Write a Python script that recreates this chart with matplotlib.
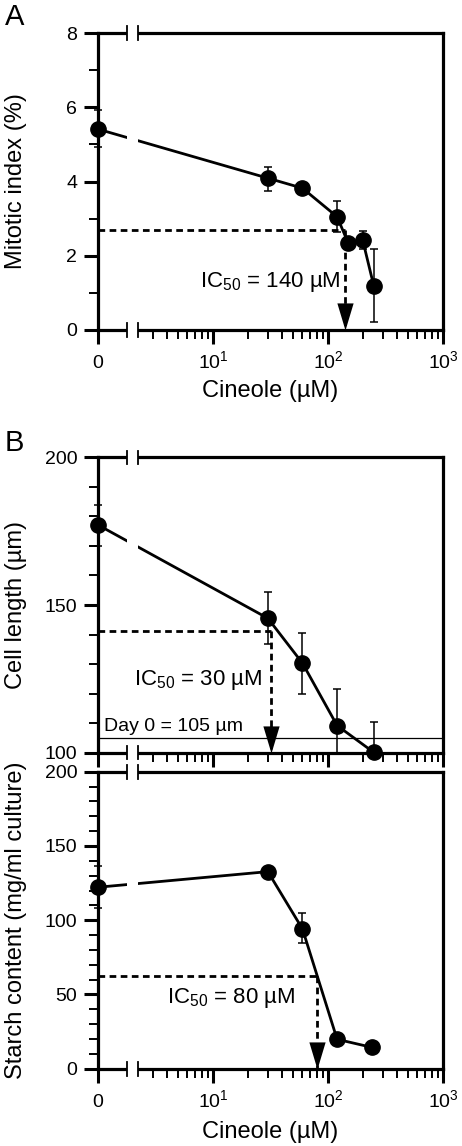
import matplotlib
matplotlib.use("Agg")
import matplotlib.pyplot as plt
from matplotlib.patches import Rectangle
from matplotlib.ticker import MultipleLocator, NullFormatter

plt.rcParams["font.family"] = ["Liberation Sans", "DejaVu Sans"]
plt.rcParams["mathtext.fontset"] = "custom"
plt.rcParams["mathtext.rm"] = "Liberation Sans"
plt.rcParams["mathtext.it"] = "Liberation Sans:italic"
plt.rcParams["mathtext.bf"] = "Liberation Sans:bold"

# concentrations in uM, 0 is drawn at 1 on the log axis (left of the break)
mitotic_conc = [0, 30, 60, 120, 150, 200, 250]
mitotic_index = [5.41, 4.09, 3.82, 3.05, 2.34, 2.43, 1.19]
mitotic_err_low = [0.47, 0.34, 0.15, 0.42, 0.0, 0.25, 0.97]
mitotic_err_high = [0.52, 0.31, 0.15, 0.43, 0.0, 0.25, 0.98]

length_conc = [0, 30, 60, 120, 250]
cell_length = [177.1, 145.5, 130.3, 109.2, 100.1]
length_err_low = [7.1, 8.7, 10.4, 9.2, 0.1]
length_err_high = [6.8, 8.8, 10.3, 12.5, 10.4]

starch_conc = [0, 30, 60, 120, 240]
starch = [122.2, 132.7, 94.1, 19.8, 14.4]
starch_err_low = [13.8, 0, 9.7, 0, 0]
starch_err_high = [14.3, 0, 10.5, 0, 0]

# IC50 guides: (x where the arrow lands, y of the horizontal dashed line, label)
ic50_mitotic = (140, 2.7, "140")
ic50_length = (32, 141.3, "30")
ic50_starch = (80, 62.6, "80")

day0_length = 105

x_major = [1, 10, 100, 1000]
x_major_labels = ["0", "10$^1$", "10$^2$", "10$^3$"]
x_minor = [m * 10 ** d for d in range(3) for m in range(2, 10) if m * 10 ** d > 2.5]

BREAK_LO = 1.78
BREAK_HI = 2.22

DASH = (0, (2.4, 1.6))
ARROW_HEAD = [(0, 0), (-0.3, 1), (0.3, 1)]

FIG_W, FIG_H = 462, 1146


def px_axes(fig, left, top, right, bottom):
    return fig.add_axes([left / FIG_W, 1 - bottom / FIG_H,
                         (right - left) / FIG_W, (bottom - top) / FIG_H])


def style_axes(ax, ylim, y_major, y_minor, show_xlabels=True):
    ax.set_xscale("log")
    ax.set_xlim(1, 1000)
    ax.set_ylim(*ylim)
    if show_xlabels:
        ax.set_xticks(x_major, labels=x_major_labels, va="baseline")
    else:
        ax.set_xticks(x_major, labels=[""] * len(x_major))
    ax.set_xticks(x_minor, minor=True)
    ax.xaxis.set_minor_formatter(NullFormatter())
    ax.yaxis.set_major_locator(MultipleLocator(y_major))
    ax.yaxis.set_minor_locator(MultipleLocator(y_minor))

    for spine in ax.spines.values():
        spine.set_linewidth(2.3)

    ax.tick_params(axis="both", which="major", direction="out", length=10,
                   width=2.2, labelsize=14, top=False, right=False)
    ax.tick_params(axis="both", which="minor", direction="out", length=6.8,
                   width=1.4, top=False, right=False)
    ax.tick_params(axis="x", which="major", pad=17.4)
    ax.tick_params(axis="y", which="major", pad=5)
    ax.yaxis.set_label_coords(-0.205, 0.5)


def draw_break(ax):
    trans = ax.get_xaxis_transform()
    ax.add_patch(Rectangle((BREAK_LO, -0.04), BREAK_HI - BREAK_LO, 1.08,
                           transform=trans, facecolor="white",
                           edgecolor="none", zorder=3, clip_on=False))
    for xb in (BREAK_LO, BREAK_HI):
        for yb in (0, 1):
            ax.plot([xb, xb], [yb - 0.023, yb + 0.023], transform=trans,
                    color="black", lw=1.3, clip_on=False, zorder=3.5)


def plot_series(ax, conc, values, err_low, err_high):
    x = [c if c > 0 else 1 for c in conc]
    ax.errorbar(x, values, yerr=[err_low, err_high], fmt="none",
                ecolor="black", elinewidth=1.1, capsize=3.2, capthick=1.1,
                clip_on=False, zorder=2)
    ax.plot(x, values, "-o", color="black", lw=2.0, markersize=11,
            clip_on=False, zorder=2.2)


def draw_ic50(ax, ic50, text_x, text_y):
    x_ic, y_ic, label = ic50
    ymin = ax.get_ylim()[0]
    ax.plot([1, x_ic], [y_ic, y_ic], color="black", lw=2.0, linestyle=DASH,
            zorder=4, clip_on=False)
    ax.plot([x_ic, x_ic], [y_ic, ymin], color="black", lw=2.0, linestyle=DASH,
            zorder=4)
    ax.plot([x_ic], [ymin], marker=ARROW_HEAD, markersize=39, color="black",
            markeredgewidth=0, zorder=5, clip_on=False)
    ax.text(text_x, text_y, "IC$_{50}$ = " + label + " \u00b5M", fontsize=16,
            ha="right", va="center", zorder=6)


def main():
    fig = plt.figure(figsize=(FIG_W / 100, FIG_H / 100), dpi=100)

    # A: mitotic index
    ax_a = px_axes(fig, 98, 33, 443, 330)
    style_axes(ax_a, (0, 8), 2, 1)
    plot_series(ax_a, mitotic_conc, mitotic_index, mitotic_err_low, mitotic_err_high)
    draw_break(ax_a)
    draw_ic50(ax_a, ic50_mitotic, 130, 1.3)
    ax_a.set_ylabel("Mitotic index (%)", fontsize=17)
    ax_a.set_xlabel("Cineole (\u00b5M)", fontsize=17)
    ax_a.xaxis.set_label_coords(0.5, -0.168)

    # B: cell length
    ax_b = px_axes(fig, 98, 457.3, 443, 752.7)
    style_axes(ax_b, (100, 200), 50, 10, show_xlabels=False)
    plot_series(ax_b, length_conc, cell_length, length_err_low, length_err_high)
    draw_break(ax_b)
    ax_b.axhline(day0_length, color="black", lw=0.9, zorder=4)
    ax_b.text(1.13, 108.8, "Day 0 = 105 \u00b5m", fontsize=14, ha="left",
              va="center", zorder=6)
    draw_ic50(ax_b, ic50_length, 27, 124.6)
    ax_b.set_ylabel("Cell length (\u00b5m)", fontsize=17)

    # B: starch content
    ax_c = px_axes(fig, 98, 771.7, 443, 1068.7)
    style_axes(ax_c, (0, 200), 50, 10)
    plot_series(ax_c, starch_conc, starch, starch_err_low, starch_err_high)
    draw_break(ax_c)
    draw_ic50(ax_c, ic50_starch, 51.8, 47.4)
    ax_c.set_ylabel("Starch content (mg/ml culture)", fontsize=17)
    ax_c.set_xlabel("Cineole (\u00b5M)", fontsize=17)
    ax_c.xaxis.set_label_coords(0.5, -0.175)

    fig.text(5 / FIG_W, 1 - 17 / FIG_H, "A", fontsize=21, ha="left", va="center")
    fig.text(5 / FIG_W, 1 - 443 / FIG_H, "B", fontsize=21, ha="left", va="center")

    fig.savefig("out.png", dpi=100)
    plt.close(fig)


if __name__ == "__main__":
    main()
